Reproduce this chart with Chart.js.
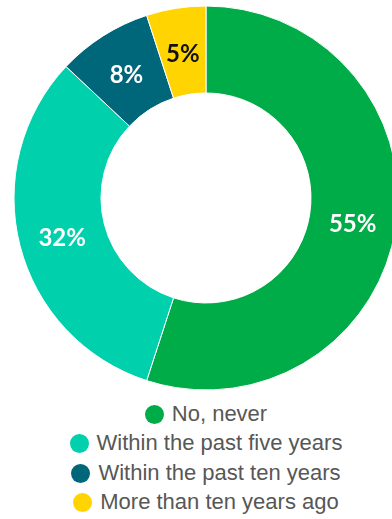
<!DOCTYPE html>
<html>
<head>
<meta charset="utf-8">
<script src="https://cdn.jsdelivr.net/npm/chart.js@4"></script>
<style>
    html, body { margin: 0; padding: 0; background: #fff; overflow: hidden; width: 392px; height: 519px; }
    #grafica { position: absolute; left: 0; top: 0; }
    #leyenda { position: absolute; left: 0; top: 399px; width: 412px; font-family: "Liberation Sans", Arial, sans-serif; font-size: 22px; color: #575757; }
    .item { display: flex; justify-content: center; align-items: center; height: 29.5px; }
    .punto { width: 19px; height: 19px; border-radius: 50%; margin-right: 8px; margin-top: 1px; }
</style>
</head>
<body>
<canvas id="grafica" width="412" height="396"></canvas>
<div id="leyenda"></div>
<script>
const categorias = ['No, never', 'Within the past five years', 'Within the past ten years', 'More than ten years ago'];
const porcentajes = [55, 32, 8, 5];
const colores = ['#00ac47', '#00d1ac', '#00667a', '#ffd400'];
const coloresTexto = ['#ffffff', '#ffffff', '#ffffff', '#111111'];

// etiquetas de porcentaje dentro de cada segmento
const etiquetas = {
    id: 'etiquetas',
    afterDatasetsDraw(chart) {
        const ctx = chart.ctx;
        const meta = chart.getDatasetMeta(0);
        ctx.save();
        ctx.font = 'bold 24px Lato, "Open Sans", sans-serif';
        ctx.textAlign = 'center';
        ctx.textBaseline = 'middle';
        meta.data.forEach((arco, i) => {
            const pos = arco.tooltipPosition();
            ctx.fillStyle = coloresTexto[i];
            ctx.fillText(porcentajes[i] + '%', pos.x, pos.y + 3);
        });
        ctx.restore();
    }
};

new Chart(document.getElementById('grafica'), {
    type: 'doughnut',
    data: {
        labels: categorias,
        datasets: [{
            data: porcentajes,
            backgroundColor: colores,
            borderColor: '#ffffff',
            borderWidth: 1,
            hoverOffset: 0
        }]
    },
    options: {
        responsive: false,
        animation: false,
        radius: 192,
        cutout: 108,
        layout: { padding: 0 },
        plugins: {
            legend: { display: false },
            tooltip: { enabled: false }
        }
    },
    plugins: [etiquetas]
});

const leyenda = document.getElementById('leyenda');
categorias.forEach((c, i) => {
    const item = document.createElement('div');
    item.className = 'item';
    const punto = document.createElement('span');
    punto.className = 'punto';
    punto.style.background = colores[i];
    const texto = document.createElement('span');
    texto.textContent = c;
    item.appendChild(punto);
    item.appendChild(texto);
    leyenda.appendChild(item);
});
</script>
</body>
</html>
